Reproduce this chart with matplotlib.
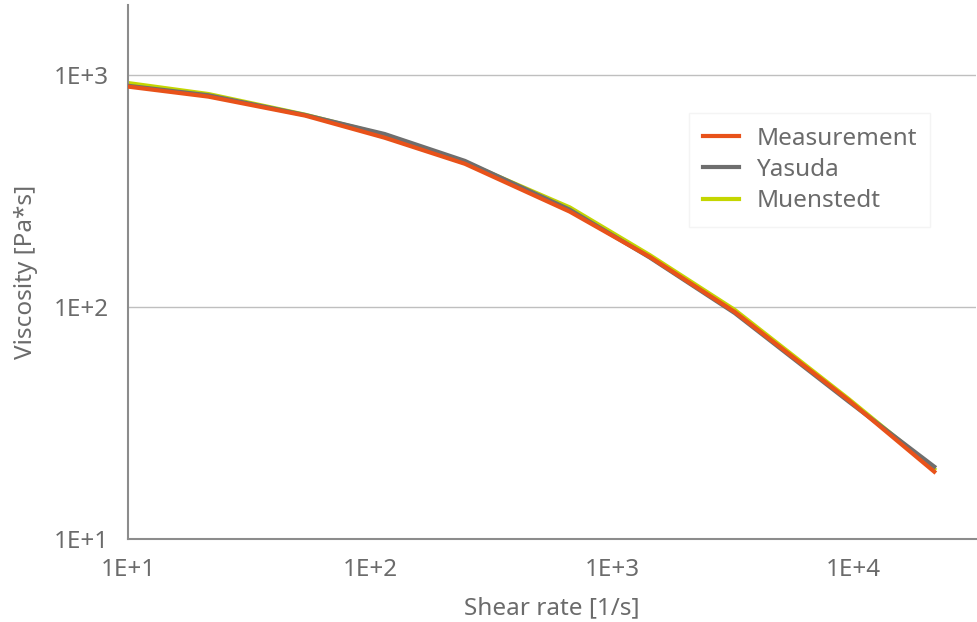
import matplotlib.pyplot as plt
from matplotlib.ticker import FixedLocator, NullLocator

shear_rate = [10, 21.5, 54, 115, 247, 670, 1435, 3220, 9550, 21500]
measurement = [888, 804, 666, 535, 413, 257, 164, 95, 39.5, 19.5]
yasuda = [895, 815, 670, 555, 425, 262, 163, 94, 39, 20.5]
muenstedt = [920, 825, 672, 550, 420, 268, 167, 97, 40, 20]

x_ticks = [10, 100, 1000, 10000]
x_labels = ["1E+1", "1E+2", "1E+3", "1E+4"]
y_ticks = [10, 100, 1000]
y_labels = ["1E+1", "1E+2", "1E+3"]

plt.rcParams["font.family"] = ["Noto Sans", "DejaVu Sans"]
text_color = "#6b6b6b"
axis_color = "#8c8c8c"

fig = plt.figure(figsize=(9.77, 6.22), dpi=100)
ax = fig.add_axes([0.131, 0.1334, 0.868, 0.859])

ax.plot(shear_rate, muenstedt, color="#c4d600", lw=3, label="Muenstedt", zorder=2)
ax.plot(shear_rate, yasuda, color="#6e6e6e", lw=3, label="Yasuda", zorder=3)
ax.plot(shear_rate, measurement, color="#e8521a", lw=3, label="Measurement", zorder=4)

ax.set_xscale("log")
ax.set_yscale("log")
ax.set_xlim(10, 32000)
ax.set_ylim(10, 2000)

ax.xaxis.set_major_locator(FixedLocator(x_ticks))
ax.xaxis.set_minor_locator(NullLocator())
ax.yaxis.set_major_locator(FixedLocator(y_ticks))
ax.yaxis.set_minor_locator(NullLocator())
ax.set_xticklabels(x_labels)
ax.set_yticklabels(y_labels)
ax.tick_params(length=0, labelsize=17.5, colors=text_color)
ax.tick_params(axis="x", pad=14)
ax.tick_params(axis="y", pad=14)

ax.grid(axis="y", color="#bfbfbf", lw=1)
ax.set_axisbelow(True)
for side in ["top", "right"]:
    ax.spines[side].set_visible(False)
for side in ["left", "bottom"]:
    ax.spines[side].set_color(axis_color)
    ax.spines[side].set_linewidth(1.5)

ax.set_xlabel("Shear rate [1/s]", fontsize=17.5, color=text_color, labelpad=10)
ax.set_ylabel("Viscosity [Pa*s]", fontsize=17.5, color=text_color, labelpad=11)

handles, labels = ax.get_legend_handles_labels()
leg = ax.legend(handles[::-1], labels[::-1], loc="upper left",
                bbox_to_anchor=(0.662, 0.797), fontsize=17.5, frameon=True,
                handlelength=1.5, handletextpad=0.7, labelspacing=0.3,
                borderpad=0.55, borderaxespad=0, fancybox=False)
leg.get_frame().set_edgecolor("#f2f2f2")
leg.get_frame().set_linewidth(1)
for t in leg.get_texts():
    t.set_color(text_color)

fig.savefig("out.png", dpi=100)
